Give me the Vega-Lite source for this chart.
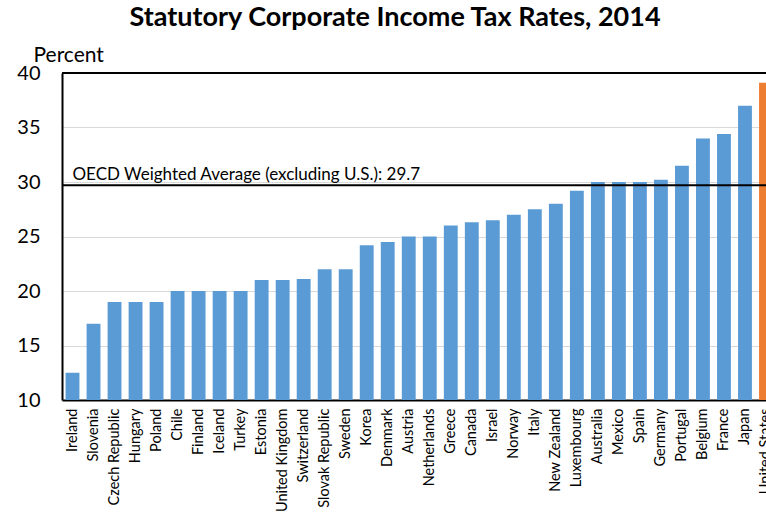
{
  "$schema": "https://vega.github.io/schema/vega-lite/v6.json",
  "autosize": {"type": "none"},
  "width": 704,
  "height": 327,
  "padding": {"left": 62, "top": 73, "right": 0, "bottom": 117},
  "background": "white",
  "config": {
    "view": {"stroke": null},
    "font": "Lato",
    "axis": {"labelFont": "Lato", "titleFont": "Lato", "labelColor": "black", "titleColor": "black"}
  },
  "title": {
    "text": "Statutory Corporate Income Tax Rates, 2014",
    "font": "Lato",
    "fontSize": 27,
    "fontWeight": "bold",
    "color": "black",
    "anchor": "middle",
    "dx": -19,
    "offset": 12
  },
  "data": {
    "values": [
      {"country": "Ireland", "rate": 12.5, "group": "OECD"},
      {"country": "Slovenia", "rate": 17, "group": "OECD"},
      {"country": "Czech Republic", "rate": 19, "group": "OECD"},
      {"country": "Hungary", "rate": 19, "group": "OECD"},
      {"country": "Poland", "rate": 19, "group": "OECD"},
      {"country": "Chile", "rate": 20, "group": "OECD"},
      {"country": "Finland", "rate": 20, "group": "OECD"},
      {"country": "Iceland", "rate": 20, "group": "OECD"},
      {"country": "Turkey", "rate": 20, "group": "OECD"},
      {"country": "Estonia", "rate": 21, "group": "OECD"},
      {"country": "United Kingdom", "rate": 21, "group": "OECD"},
      {"country": "Switzerland", "rate": 21.1, "group": "OECD"},
      {"country": "Slovak Republic", "rate": 22, "group": "OECD"},
      {"country": "Sweden", "rate": 22, "group": "OECD"},
      {"country": "Korea", "rate": 24.2, "group": "OECD"},
      {"country": "Denmark", "rate": 24.5, "group": "OECD"},
      {"country": "Austria", "rate": 25, "group": "OECD"},
      {"country": "Netherlands", "rate": 25, "group": "OECD"},
      {"country": "Greece", "rate": 26, "group": "OECD"},
      {"country": "Canada", "rate": 26.3, "group": "OECD"},
      {"country": "Israel", "rate": 26.5, "group": "OECD"},
      {"country": "Norway", "rate": 27, "group": "OECD"},
      {"country": "Italy", "rate": 27.5, "group": "OECD"},
      {"country": "New Zealand", "rate": 28, "group": "OECD"},
      {"country": "Luxembourg", "rate": 29.2, "group": "OECD"},
      {"country": "Australia", "rate": 30, "group": "OECD"},
      {"country": "Mexico", "rate": 30, "group": "OECD"},
      {"country": "Spain", "rate": 30, "group": "OECD"},
      {"country": "Germany", "rate": 30.2, "group": "OECD"},
      {"country": "Portugal", "rate": 31.5, "group": "OECD"},
      {"country": "Belgium", "rate": 34, "group": "OECD"},
      {"country": "France", "rate": 34.4, "group": "OECD"},
      {"country": "Japan", "rate": 37, "group": "OECD"},
      {"country": "United States", "rate": 39.1, "group": "US"}
    ]
  },
  "layer": [
    {
      "mark": {"type": "bar", "clip": true},
      "encoding": {
        "x": {
          "field": "country",
          "type": "nominal",
          "sort": null,
          "scale": {
            "domain": ["Ireland", "Slovenia", "Czech Republic", "Hungary", "Poland", "Chile", "Finland", "Iceland", "Turkey", "Estonia", "United Kingdom", "Switzerland", "Slovak Republic", "Sweden", "Korea", "Denmark", "Austria", "Netherlands", "Greece", "Canada", "Israel", "Norway", "Italy", "New Zealand", "Luxembourg", "Australia", "Mexico", "Spain", "Germany", "Portugal", "Belgium", "France", "Japan", "United States"],
            "range": [0, 714.5],
            "paddingInner": 0.34,
            "paddingOuter": 0.17
          },
          "axis": {
            "title": null,
            "labelAngle": -90,
            "labelAlign": "right",
            "labelBaseline": "middle",
            "labelFontSize": 14.5,
            "labelPadding": 8,
            "ticks": false,
            "domain": true,
            "domainColor": "black",
            "domainWidth": 2,
            "grid": false
          }
        },
        "y": {
          "field": "rate",
          "type": "quantitative",
          "scale": {"domain": [10, 40], "zero": false, "nice": false},
          "axis": {
            "title": "Percent",
            "titleAngle": 0,
            "titleAlign": "left",
            "titleBaseline": "alphabetic",
            "titleX": -29,
            "titleY": -12,
            "titleFontSize": 21,
            "titleFontWeight": "normal",
            "values": [10, 15, 20, 25, 30, 35, 40],
            "labelFontSize": 20,
            "labelPadding": 22,
            "ticks": false,
            "domainColor": "black",
            "domainWidth": 2,
            "grid": true,
            "gridColor": "#D9D9D9",
            "gridWidth": 1
          }
        },
        "color": {
          "field": "group",
          "type": "nominal",
          "scale": {"domain": ["OECD", "US"], "range": ["#5B9BD5", "#ED7D31"]},
          "legend": null
        }
      }
    },
    {
      "data": {"values": [{"level": 40}]},
      "mark": {"type": "rule", "color": "black", "strokeWidth": 2},
      "encoding": {"y": {"field": "level", "type": "quantitative"}}
    },
    {
      "data": {"values": [{"avg": 29.7, "label": "OECD Weighted Average (excluding U.S.): 29.7", "anchor": "Ireland"}]},
      "layer": [
        {
          "mark": {"type": "rule", "color": "black", "strokeWidth": 2},
          "encoding": {"y": {"field": "avg", "type": "quantitative"}}
        },
        {
          "mark": {"type": "text", "align": "left", "baseline": "alphabetic", "fontSize": 17, "dy": -5, "color": "black", "font": "Lato"},
          "encoding": {
            "x": {"field": "anchor", "type": "nominal"},
            "y": {"field": "avg", "type": "quantitative"},
            "text": {"field": "label"}
          }
        }
      ]
    }
  ]
}
